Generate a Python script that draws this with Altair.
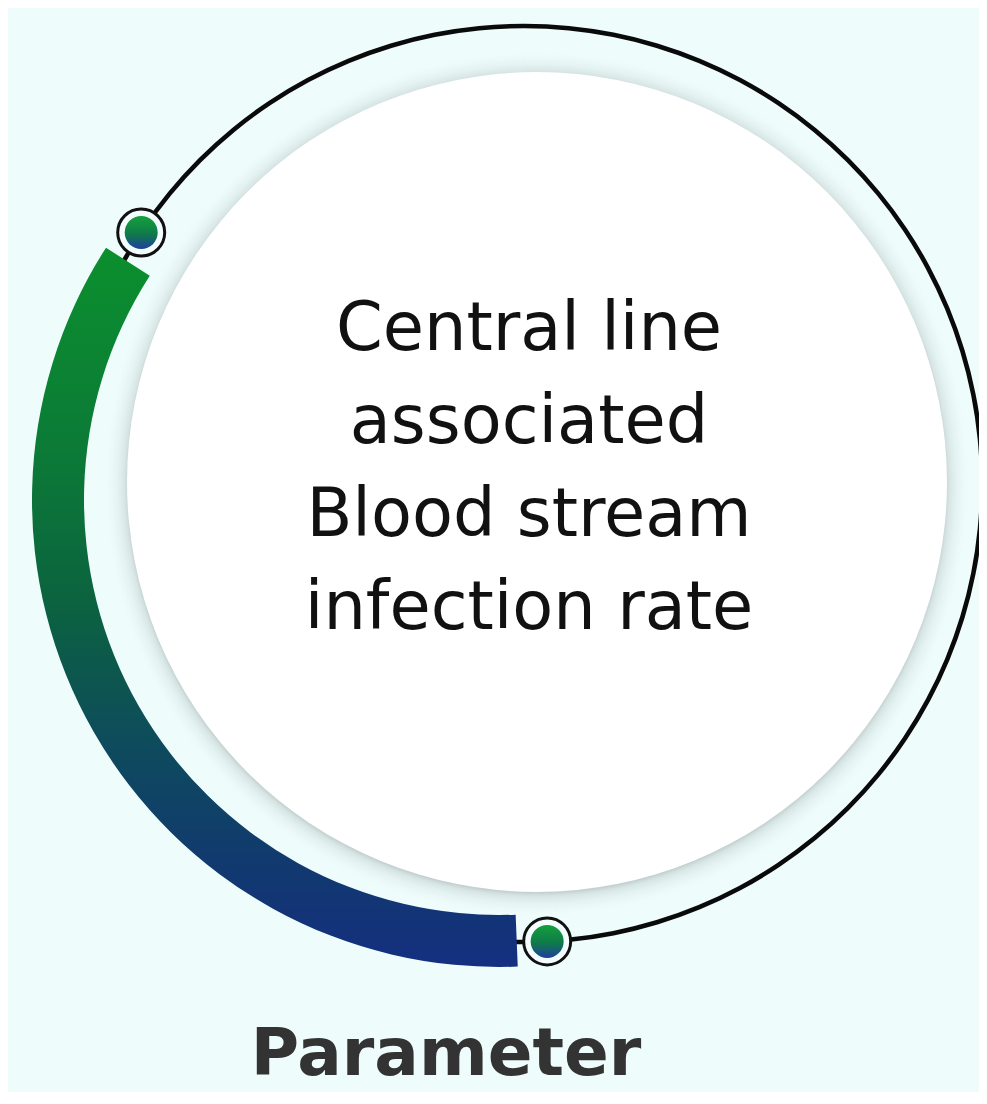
import math
import altair as alt
import pandas as pd

# ---------------- data ----------------
title_lines = ["Central line", "associated", "Blood stream", "infection rate"]
footer_label = "Parameter"
progress_start_deg = [177.7]   # end of the coloured arc near 6 o'clock
progress_end_deg = [302.7]     # end of the coloured arc near 10 o'clock
marker_deg = [303.3, 177.1]    # the two handle markers on the ring

# ---------------- layout (reference pixels) ----------------
OFF = 8
W, H = 971, 1084
RING_C = (524, 484)
RING_R = 458
DISK_C = (537, 482)
ARC_C = (499, 500)
ARC_R_OUT, ARC_R_IN = 467, 415
DISK_R = 410
BG = "#effcfc"


def pxx(x):
    return x - OFF


def pxy(y):
    return y - OFF


TWO_PI = 2 * math.pi
theta_scale = alt.Scale(domain=[0, 360], range=[0, TWO_PI])
xs = alt.Scale(domain=[OFF, OFF + W], nice=False, zero=False)
ys = alt.Scale(domain=[OFF, OFF + H], nice=False, zero=False, reverse=True)

one = pd.DataFrame({"k": [0]})

shadow_grad = {
    "gradient": "radial",
    "x1": 0.5, "y1": 0.5, "r1": 406 / 864,
    "x2": 0.5, "y2": 0.5, "r2": 0.5,
    "stops": [
        {"offset": 0, "color": "rgba(120,135,135,0.5)"},
        {"offset": 0.25, "color": "rgba(160,175,175,0.3)"},
        {"offset": 1, "color": "rgba(220,240,240,0)"},
    ],
}

shadow = alt.Chart(one).mark_arc(
    x=pxx(DISK_C[0]), y=pxy(DISK_C[1]) + 2, radius=432, radius2=0,
    theta=0, theta2=TWO_PI, fill=shadow_grad,
).encode(opacity=alt.value(1))

disk = alt.Chart(one).mark_arc(
    x=pxx(DISK_C[0]), y=pxy(DISK_C[1]), radius=DISK_R, radius2=0,
    theta=0, theta2=TWO_PI, fill="#ffffff",
).encode(opacity=alt.value(1))

ring = alt.Chart(one).mark_arc(
    x=pxx(RING_C[0]), y=pxy(RING_C[1]), radius=RING_R + 2.3, radius2=RING_R - 2.3,
    theta=0, theta2=TWO_PI, fill="#0a0a0a",
).encode(opacity=alt.value(1))

prog_df = pd.DataFrame({"start": progress_start_deg, "end": progress_end_deg})
prog_grad = {
    "gradient": "linear", "x1": 0, "y1": 0, "x2": 0, "y2": 1,
    "stops": [
        {"offset": 0.0, "color": "#0b8f2e"},
        {"offset": 0.28, "color": "#0b7b37"},
        {"offset": 0.49, "color": "#0b633f"},
        {"offset": 0.70, "color": "#0e4a5e"},
        {"offset": 0.86, "color": "#11396f"},
        {"offset": 1.0, "color": "#142f80"},
    ],
}
progress = alt.Chart(prog_df).mark_arc(
    x=pxx(ARC_C[0]), y=pxy(ARC_C[1]), radius=ARC_R_OUT, radius2=ARC_R_IN,
    fill=prog_grad,
).encode(
    theta=alt.Theta("start:Q", scale=theta_scale),
    theta2="end:Q",
)

mk = pd.DataFrame({
    "x": [RING_C[0] + RING_R * math.sin(math.radians(a)) for a in marker_deg],
    "y": [RING_C[1] - RING_R * math.cos(math.radians(a)) for a in marker_deg],
})
dot_grad = {
    "gradient": "linear", "x1": 0, "y1": 0, "x2": 0, "y2": 1,
    "stops": [
        {"offset": 0.0, "color": "#14a03c"},
        {"offset": 0.55, "color": "#0f7a4a"},
        {"offset": 1.0, "color": "#1f3f9e"},
    ],
}
marker_ring = alt.Chart(mk).mark_point(
    shape="circle", size=2209, filled=True, fill="#f4fdfd",
    stroke="#111111", strokeWidth=3, opacity=1,
).encode(x=alt.X("x:Q", scale=xs, axis=None), y=alt.Y("y:Q", scale=ys, axis=None))

marker_dot = alt.Chart(mk).mark_point(
    shape="circle", size=1090, filled=True, fill=dot_grad,
    strokeWidth=0, opacity=1,
).encode(x=alt.X("x:Q", scale=xs, axis=None), y=alt.Y("y:Q", scale=ys, axis=None))

title = alt.Chart(one).mark_text(
    x=pxx(529), y=pxy(350), text=title_lines, fontSize=67, lineHeight=93,
    font="DejaVu Sans", color="#111111", align="center", baseline="alphabetic",
).encode(opacity=alt.value(1))

footer = alt.Chart(one).mark_text(
    x=pxx(446), y=pxy(1075), text=footer_label, fontSize=66, fontWeight="bold",
    font="DejaVu Sans", color="#333333", align="center", baseline="alphabetic",
).encode(opacity=alt.value(1))

chart = alt.layer(
    shadow, disk, ring, progress, marker_ring, marker_dot, title, footer
).properties(
    width=W, height=H, padding=0, autosize="none", background=BG,
).configure_view(stroke=None)

chart.save("out.html", embed_options={"renderer": "svg", "actions": False})
